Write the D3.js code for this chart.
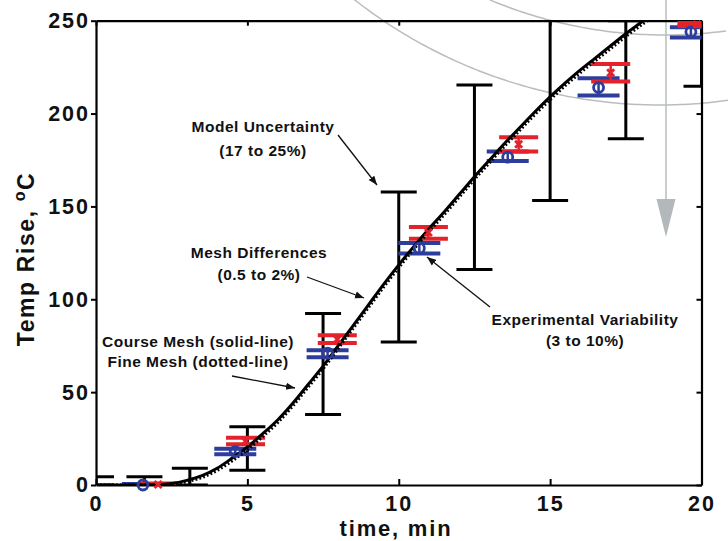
<!DOCTYPE html>
<html><head><meta charset="utf-8">
<script src="https://cdn.jsdelivr.net/npm/d3@7"></script>
<style>
html,body{margin:0;padding:0;background:#fff;}
svg{display:block;}
text{font-family:"Liberation Sans",Arial,sans-serif;font-weight:bold;fill:#111;}
</style></head>
<body>
<svg id="chart" width="728" height="541"></svg>
<script>
// ---- data ----
const xTicks = [0, 5, 10, 15, 20];
const yTicks = [0, 50, 100, 150, 200, 250];

// simulation curves
const simTime   = [0,1,2,2.5,3,3.5,4,4.5,5,5.5,6,6.5,7,7.5,8,8.5,9,9.5,10,10.5,11,11.5,12,12.5,13,13.5,14,14.5,15,15.5,16,16.5,17,17.5,18,18.5];
const coarseMesh= [0,0,0.2,0.8,2.5,5,9,14.5,20.5,27.5,35,44,54,64,75,86,97,108,118.5,128.5,138,147,156.5,166,175,184,192.5,201,209,216.5,223.5,230,236.5,243,249,255];
const fineMesh  = [0,0,0,0.4,1.8,4,7.8,13,19,26,33.5,42.5,52.5,62.5,73.5,84.5,95.5,106.5,117,127,136.5,145.5,155,164.5,173.5,182.5,191,199.5,207.5,215,222,228.5,235,241.5,247.5,253.5];

// model uncertainty bars
const modelTime = [0, 1.6, 3.1, 5, 7.5, 10, 12.5, 15, 17.5, 20];
const modelHigh = [4.5, 4.5, 9, 31.3, 92.3, 157.7, 215.4, 265, 250, 290];
const modelLow  = [0, 0, 0, 8, 38, 77, 116, 153.2, 186.4, 214.7];

// experiment A (blue circles)
const expATime = [1.55, 4.6, 7.65, 10.68, 13.6, 16.6, 19.65];
const expAVal  = [0, 18, 71, 127.5, 176.5, 214, 244];
const expAHigh = [0.5, 19.5, 72.6, 130.3, 179.6, 219, 246.5];
const expALow  = [-0.5, 16.5, 68.8, 124.6, 174.4, 209.7, 241];

// experiment B (red crosses)
const expBTime = [2.05, 4.94, 7.97, 10.98, 13.96, 17.0, 19.85];
const expBVal  = [0.3, 23.5, 78.5, 136, 183.5, 222, 248];
const expBHigh = [0.8, 25.5, 80.6, 138.9, 187.3, 226.7, 248.8];
const expBLow  = [-0.2, 22, 76.5, 132.6, 179.6, 217.2, 247.2];

const annotations = [
  {lines:["Model Uncertainty","(17 to 25%)"], x:263, y:[132,156], from:[338,135], to:[377,185]},
  {lines:["Mesh Differences","(0.5 to 2%)"], x:259, y:[258,280], from:[307,277], to:[364,298]},
  {lines:["Course Mesh (solid-line)","Fine Mesh (dotted-line)"], x:198, y:[347,367], from:[232,376], to:[295,388]},
  {lines:["Experimental Variability","(3 to 10%)"], x:585, y:[325,346], from:[490,307], to:[427,257]}
];

// ---- layout ----
const svg = d3.select("#chart");
const L = 96, R = 701.5, T = 20.7, B = 485;
const x = d3.scaleLinear().domain([0,20]).range([L,R]);
const y = d3.scaleLinear().domain([0,250]).range([B,T]);
const RED = "#e3222b", BLUE = "#2d3d9c";

svg.append("defs").append("clipPath").attr("id","plot")
  .append("rect").attr("x",L).attr("y",T).attr("width",R-L).attr("height",B-T);

svg.append("defs").append("marker").attr("id","arrow").attr("viewBox","0 0 10 10")
  .attr("refX",10).attr("refY",5).attr("markerWidth",9).attr("markerHeight",9)
  .attr("markerUnits","userSpaceOnUse").attr("orient","auto")
  .append("path").attr("d","M0,1 L10,5 L0,9 Z").attr("fill","#111");

// grey overlay arcs & arrow (artifact of the source figure)
const overlay = svg.append("g").attr("fill","none").attr("stroke","#b9bdbf").attr("stroke-width",1.5);
const arc = (cx, cy, r, x0, x1) => {
  const pts = d3.range(x0, x1 + 1, 4).map(px => [px, cy + Math.sqrt(r*r - (px-cx)*(px-cx))]);
  return d3.line()(pts);
};
overlay.append("path").attr("d", arc(660,-391,496,352,728));
overlay.append("path").attr("d", arc(665,-420,455,490,728));
overlay.append("line").attr("x1",666).attr("x2",666).attr("y1",0).attr("y2",205);
svg.append("path").attr("d","M656.5,199 L675.5,199 L666,237 Z").attr("fill","#b3b8bb");

// ---- axes ----
const axisStyle = g => {
  g.selectAll("path.domain").attr("stroke","#000").attr("stroke-width",2.2);
  g.selectAll(".tick line").attr("stroke","#000").attr("stroke-width",2);
};
svg.append("g").attr("transform",`translate(0,${B})`)
  .call(d3.axisBottom(x).tickValues(xTicks).tickSizeInner(-6).tickSizeOuter(0).tickPadding(11).tickFormat(d3.format("d")))
  .call(axisStyle)
  .call(g => g.selectAll("text").attr("font-size",21.5).attr("letter-spacing","2px").attr("fill","#111")
      .attr("font-family","Liberation Sans, Arial, sans-serif").attr("font-weight","bold"));
svg.append("g").attr("transform",`translate(0,${T})`)
  .call(d3.axisTop(x).tickValues(xTicks).tickSizeInner(-5).tickSizeOuter(0).tickFormat(""))
  .call(axisStyle);
svg.append("g").attr("transform",`translate(${L},0)`)
  .call(d3.axisLeft(y).tickValues(yTicks).tickSizeInner(5).tickSizeOuter(0).tickPadding(1).tickFormat(d3.format("d")))
  .call(axisStyle)
  .call(g => g.selectAll("text").attr("font-size",21.5).attr("letter-spacing","2px").attr("fill","#111")
      .attr("font-family","Liberation Sans, Arial, sans-serif").attr("font-weight","bold"));
svg.append("g").attr("transform",`translate(${R},0)`)
  .call(d3.axisRight(y).tickValues(yTicks).tickSizeInner(-5).tickSizeOuter(0).tickFormat(""))
  .call(axisStyle);

// axis titles
svg.append("text").attr("x",396).attr("y",536).attr("text-anchor","middle")
  .attr("font-size",22).attr("letter-spacing","1.8px").text("time, min");
const yt = svg.append("text").attr("transform","translate(33.5,259) rotate(-90)")
  .attr("text-anchor","middle").attr("font-size",23).attr("letter-spacing","1.6px");
yt.append("tspan").text("Temp Rise, ");
yt.append("tspan").attr("font-size",16).attr("dy",-9).text("o");
yt.append("tspan").attr("dy",9).text("C");

// ---- model uncertainty bars ----
const plot = svg.append("g").attr("clip-path","url(#plot)");
const model = modelTime.map((t,i)=>({t, hi:modelHigh[i], lo:modelLow[i]}));
const mg = plot.append("g").attr("stroke","#000").attr("stroke-width",3).attr("fill","none");
mg.selectAll("line.v").data(model).join("line").attr("class","v")
  .attr("x1",d=>x(d.t)).attr("x2",d=>x(d.t)).attr("y1",d=>y(d.lo)).attr("y2",d=>y(d.hi));
mg.selectAll("line.h").data(model).join("line").attr("class","h")
  .attr("x1",d=>x(d.t)-18).attr("x2",d=>x(d.t)+18).attr("y1",d=>y(d.hi)).attr("y2",d=>y(d.hi));
mg.selectAll("line.l").data(model).join("line").attr("class","l")
  .attr("x1",d=>x(d.t)-18).attr("x2",d=>x(d.t)+18).attr("y1",d=>y(d.lo)).attr("y2",d=>y(d.lo));

// ---- experiments ----
function drawExp(times, vals, his, los, color, half){
  const data = times.map((t,i)=>({t, v:vals[i], hi:his[i], lo:los[i]}));
  const g = plot.append("g").attr("stroke",color).attr("fill","none");
  g.selectAll("line.v").data(data).join("line").attr("class","v").attr("stroke-width",2.5)
    .attr("x1",d=>x(d.t)).attr("x2",d=>x(d.t)).attr("y1",d=>y(d.lo)).attr("y2",d=>y(d.hi));
  g.selectAll("line.h").data(data).join("line").attr("class","h").attr("stroke-width",4)
    .attr("x1",d=>x(d.t)-half).attr("x2",d=>x(d.t)+half).attr("y1",d=>y(d.hi)).attr("y2",d=>y(d.hi));
  g.selectAll("line.l").data(data).join("line").attr("class","l").attr("stroke-width",4)
    .attr("x1",d=>x(d.t)-half).attr("x2",d=>x(d.t)+half).attr("y1",d=>y(d.lo)).attr("y2",d=>y(d.lo));
  return data;
}
const dataA = drawExp(expATime, expAVal, expAHigh, expALow, BLUE, 21);
const dataB = drawExp(expBTime, expBVal, expBHigh, expBLow, RED, 19.5);

const mk = svg.append("g");
mk.selectAll("circle").data(dataA).join("circle")
  .attr("cx",d=>x(d.t)).attr("cy",d=>y(d.v)).attr("r",5)
  .attr("fill","none").attr("stroke",BLUE).attr("stroke-width",2.8);
mk.selectAll("path").data(dataB).join("path")
  .attr("transform",d=>`translate(${x(d.t)},${y(d.v)})`)
  .attr("d","M-3.5,-3.5L3.5,3.5M-3.5,3.5L3.5,-3.5")
  .attr("stroke",RED).attr("stroke-width",2.8).attr("fill","none");

// ---- simulation curves ----
const simLine = d3.line().x((d,i)=>x(simTime[i])).y(d=>y(d)).curve(d3.curveMonotoneX);
plot.append("path").attr("d",simLine(fineMesh)).attr("fill","none")
  .attr("stroke","#000").attr("stroke-width",3).attr("stroke-dasharray","1.8,2.2");
plot.append("path").attr("d",simLine(coarseMesh)).attr("fill","none")
  .attr("stroke","#000").attr("stroke-width",3);

// ---- annotations ----
const ann = svg.append("g");
annotations.forEach(a=>{
  a.lines.forEach((s,i)=>{
    ann.append("text").attr("x",a.x).attr("y",a.y[i]).attr("text-anchor","middle")
      .attr("font-size",15.5).attr("letter-spacing","0.5px").text(s);
  });
  ann.append("line").attr("x1",a.from[0]).attr("y1",a.from[1]).attr("x2",a.to[0]).attr("y2",a.to[1])
    .attr("stroke","#111").attr("stroke-width",1.3).attr("marker-end","url(#arrow)");
});
</script>
</body></html>
